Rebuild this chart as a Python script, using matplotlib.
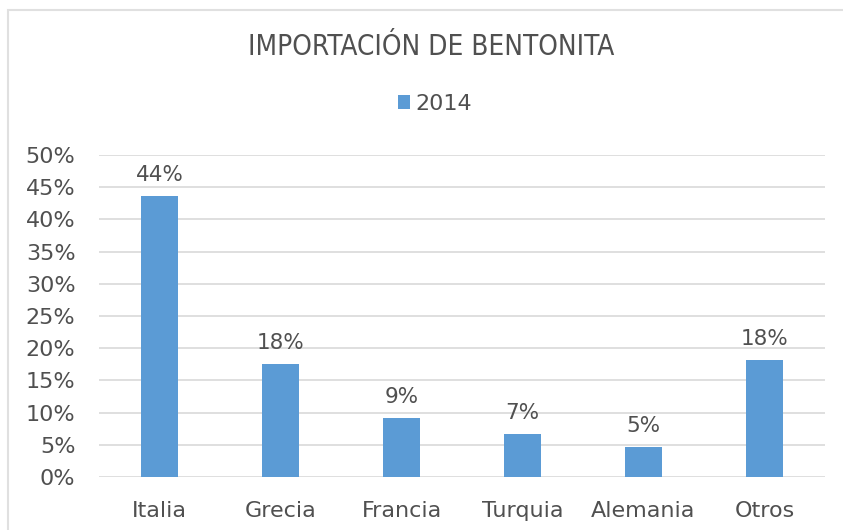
import matplotlib
matplotlib.use("Agg")
import matplotlib.pyplot as plt
from matplotlib.patches import Rectangle
from matplotlib.ticker import PercentFormatter

#### data
paises = ["Italia", "Grecia", "Francia", "Turquia", "Alemania", "Otros"]
valores_2014 = [0.436, 0.175, 0.092, 0.066, 0.046, 0.181]
serie = "2014"
titulo = "IMPORTACIÓN DE BENTONITA"

azul = "#5B9BD5"
gris_txt = "#505050"
gris_grid = "#D9D9D9"

plt.rcParams["font.family"] = ["DejaVu Sans"]

#### plotting
fig = plt.figure(figsize=(8.43, 5.30), dpi=100)
ax = fig.add_axes([99 / 843, 53 / 530, (825 - 99) / 843, (375 - 53) / 530])

x = range(len(paises))
bars = ax.bar(x, valores_2014, width=0.31, color=azul, zorder=3, label=serie)

## data labels above each bar
for xi, v in zip(x, valores_2014):
    ax.annotate(f"{round(v * 100)}%", (xi, v), xytext=(0, 8), textcoords="offset points",
                ha="center", va="bottom", fontsize=15.5, color=gris_txt)

ax.set_ylim(0, 0.5)
ax.set_xlim(-0.5, len(paises) - 0.5)
ax.set_yticks([i * 0.05 for i in range(11)])
ax.yaxis.set_major_formatter(PercentFormatter(1.0, decimals=0))
ax.set_xticks(list(x))
ax.set_xticklabels(paises)
ax.tick_params(axis="both", length=0, labelsize=16, labelcolor=gris_txt)
ax.tick_params(axis="x", pad=17)
ax.tick_params(axis="y", pad=17)
ax.grid(axis="y", color=gris_grid, linewidth=1.2, zorder=0)
for s in ax.spines.values():
    s.set_visible(False)

## title and legend
fig.text(0.512, 1 - 47 / 530, titulo, ha="center", va="center", fontsize=20,
         color=gris_txt, fontstretch="condensed")
fig.legend(handles=[bars], labels=[serie], loc="center", bbox_to_anchor=(0.516, 1 - 104 / 530),
           frameon=False, fontsize=16, labelcolor=gris_txt, handlelength=0.55,
           handleheight=0.55, handletextpad=0.25)

## chart area border
fig.patches.append(Rectangle((8 / 843, -0.1), 1.2, 1.1 - 10 / 530, transform=fig.transFigure,
                             fill=False, edgecolor="#E0E0E0", linewidth=1.5))

fig.savefig("out.png", dpi=100)
